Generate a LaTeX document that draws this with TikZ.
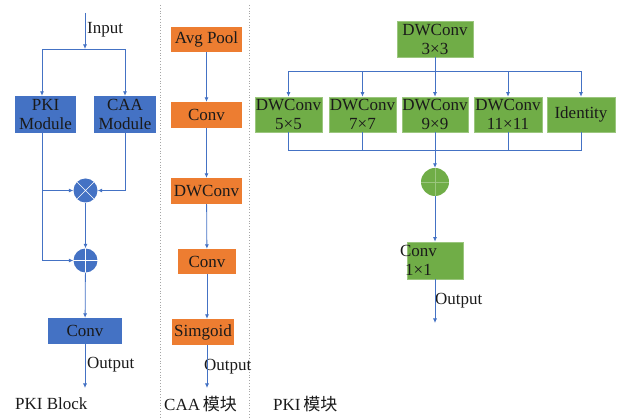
\documentclass[tikz,border=0pt]{standalone}
\usepackage{fontspec}
\setmainfont{Liberation Serif}
\newfontfamily\cjk{Noto Sans CJK SC}
\usetikzlibrary{arrows.meta}
\definecolor{lblue}{HTML}{4472C4}
\definecolor{bfill}{HTML}{4472C4}
\definecolor{ofill}{HTML}{ED7D31}
\definecolor{gfill}{HTML}{70AD47}
\definecolor{txt}{HTML}{1A1A1A}
\tikzset{
  box/.style={draw=none, inner sep=0pt, align=center, text=txt,
    font=\fontsize{17}{19}\selectfont},
  blueb/.style={box, fill=bfill},
  orab/.style={box, fill=ofill},
  greb/.style={box, fill=gfill, draw=gfill!70!white, line width=0.6pt},
  opc/.style={circle, fill=bfill, minimum size=24pt, inner sep=0pt},
  conn/.style={draw=lblue, line width=0.8pt},
  arr/.style={conn, -{Latex[length=4.5pt,width=4pt]}},
  lbl/.style={text=txt, inner sep=0pt, anchor=west, font=\fontsize{17}{19}\selectfont},
  sep/.style={draw=gray!70, dotted, line width=0.8pt}
}
\begin{document}
\begin{tikzpicture}[x=1pt,y=-1pt]
\useasboundingbox (0,0) rectangle (621,419);
% separators
\coordinate (s1a) at (160,5); \coordinate (s1b) at (160,419);
\coordinate (s2a) at (249,5); \coordinate (s2b) at (249,419);
\draw[sep] (s1a) -- (s1b);
\draw[sep] (s2a) -- (s2b);

% ---------------- left panel ----------------
\coordinate (in0) at (85,13);
\coordinate (inS) at (85,49);
\node[lbl] (inlbl) at (87,30) {Input};
\node[blueb, minimum width=61pt, minimum height=37pt] (pki) at (45.5,114.5) {PKI\\Module};
\node[blueb, minimum width=62pt, minimum height=37pt] (caa) at (125,114.5) {CAA\\Module};
\node[opc] (mul) at (85.5,190.5) {};
\node[opc] (add) at (85.5,260.5) {};
\draw[white, line width=0.4pt] (mul.north west) -- (mul.south east) (mul.north east) -- (mul.south west);
\draw[white, line width=0.4pt] (add.north) -- (add.south) (add.west) -- (add.east);
\node[blueb, minimum width=74pt, minimum height=26pt] (conv) at (85,331) {Conv};
\coordinate (out1) at (85,388);
\node[lbl] (o1lbl) at (87,365) {Output};
\node[lbl] (pkib) at (15,404) {PKI Block};

\draw[arr] (in0) -- (inS);
\draw[arr] (inS) -| ([xshift=-3.5pt]pki.north);
\draw[arr] (inS) -| (caa.north);
\draw[arr] ([xshift=-3.5pt]pki.south) |- (mul.west);
\draw[arr] ([xshift=-3.5pt]pki.south) |- (add.west);
\draw[arr] (caa.south) |- (mul.east);
\draw[arr] (mul) -- (add);
\draw[arr] (add) -- (conv);
\draw[arr] (conv) -- (out1);

% ---------------- middle panel ----------------
\node[orab, minimum width=71pt, minimum height=25pt] (avg) at (206.5,39.5) {Avg Pool};
\node[orab, minimum width=71pt, minimum height=26pt] (c1) at (206.5,115) {Conv};
\node[orab, minimum width=71pt, minimum height=26pt] (dw) at (206.5,191) {DWConv};
\node[orab, minimum width=58pt, minimum height=25pt] (c2) at (207,261.5) {Conv};
\node[orab, minimum width=62pt, minimum height=26pt] (sig) at (203,332) {Simgoid};
\coordinate (out2) at (207,388);
\node[lbl] (o2lbl) at (204,367) {Output};
\node[lbl] (caam) at (164,404) {CAA\,{\cjk 模块}};

\draw[arr] (avg) -- (c1);
\draw[arr] (c1) -- (dw);
\draw[arr] (dw) -- (c2);
\draw[arr] (c2) -- (c2 |- sig.north);
\draw[arr] (sig.south -| c2) -- (out2);

% ---------------- right panel ----------------
\node[greb, minimum width=76pt, minimum height=36pt] (dw3) at (435,39) {DWConv\\3×3};
\node[greb, minimum width=67pt, minimum height=35pt] (b5) at (288.5,114.5) {DWConv\\5×5};
\node[greb, minimum width=67pt, minimum height=35pt] (b7) at (362.5,114.5) {DWConv\\7×7};
\node[greb, minimum width=66pt, minimum height=35pt] (b9) at (435,114.5) {DWConv\\9×9};
\node[greb, minimum width=68pt, minimum height=35pt] (b11) at (508,114.5) {DWConv\\11×11};
\node[greb, minimum width=68pt, minimum height=35pt] (bid) at (581,114.5) {Identity};
\coordinate (sp) at (435,71);
\coordinate (jn) at (435,150);
\node[circle, fill=gfill, minimum size=28pt, inner sep=0pt] (gc) at (435,182) {};
\draw[gfill!70!white, line width=0.5pt] (gc.north) -- (gc.south) (gc.west) -- (gc.east);
\node[greb, minimum width=56pt, minimum height=37pt] (c11) at (435,260.5) {};
\node[box] (c11t) at (418.5,260.5) {Conv\\1×1};
\coordinate (out3) at (435,323);
\node[lbl] (o3lbl) at (435,301) {Output};
\node[lbl] (pkim) at (273,404) {PKI\,{\cjk 模块}};

\draw[arr] (dw3.south) -- (b9.north);
\draw[arr] (sp) -| (b5.north);
\draw[arr] (sp) -| (b7.north);
\draw[arr] (sp) -| (b11.north);
\draw[arr] (sp) -| (bid.north);
\draw[conn] (b5.south) |- (jn);
\draw[conn] (b7.south) |- (jn);
\draw[conn] (b11.south) |- (jn);
\draw[conn] (bid.south) |- (jn);
\draw[arr] (b9.south) -- (gc.north);
\draw[arr] (gc) -- (c11);
\draw[arr] (c11) -- (out3);
\end{tikzpicture}
\end{document}
